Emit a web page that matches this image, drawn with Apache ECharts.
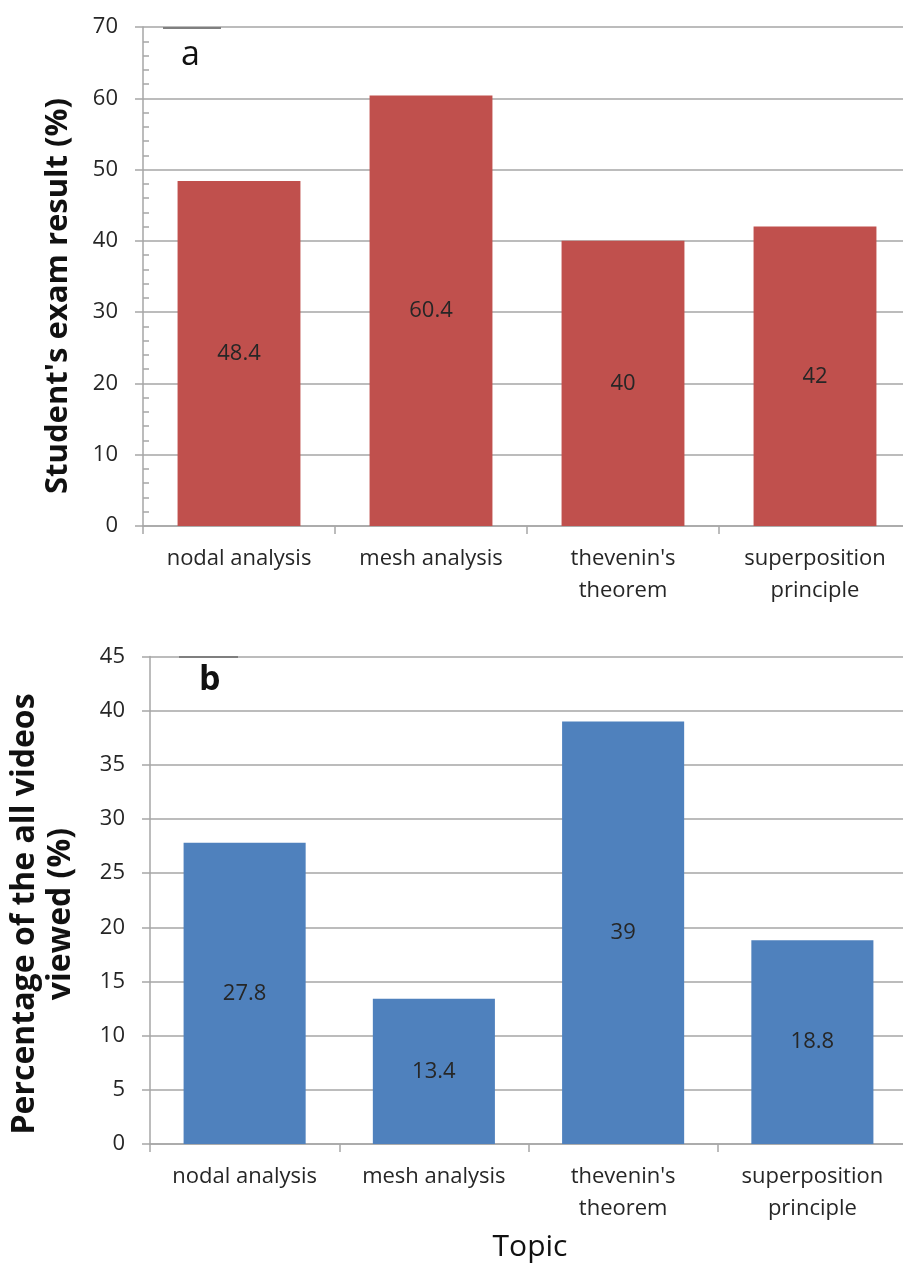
<!DOCTYPE html>
<html>
<head>
<meta charset="utf-8">
<script src="https://cdn.jsdelivr.net/npm/echarts@6/dist/echarts.min.js"></script>
<style>
html,body{margin:0;padding:0;background:#fff;}
#c{width:903px;height:1265px;}
</style>
</head>
<body>
<div id="c"></div>
<script>
// ---- data ----
const topics = ['nodal analysis', 'mesh analysis', "thevenin's\ntheorem", 'superposition\nprinciple'];
const examResult = [48.4, 60.4, 40, 42];
const videosViewed = [27.8, 13.4, 39, 18.8];
const yNameA = "Student's exam result (%)";
const yNameB = 'Percentage of the all videos\nviewed (%)';
const xNameB = 'Topic';
const panelA = 'a';
const panelB = 'b';

const FONT = '"Open Sans", Lato, sans-serif';
const AX = '#a6a6a6';
const TXT = '#262626';
const GRID_A_W = 768;

const chart = echarts.init(document.getElementById('c'), null, {renderer: 'canvas'});

function catAxis(gridIndex) {
  return {
    type: 'category', gridIndex: gridIndex, data: topics,
    axisLine: {lineStyle: {color: AX, width: 1.5}},
    axisTick: {show: true, length: 8, interval: 0, lineStyle: {color: AX, width: 1.5}},
    axisLabel: {color: TXT, fontFamily: FONT, fontSize: 22, margin: 17, lineHeight: 32, interval: 0}
  };
}
function valAxis(gridIndex, max, interval) {
  return {
    type: 'value', gridIndex: gridIndex, position: 'left', min: 0, max: max, interval: interval,
    axisLine: {show: true, lineStyle: {color: AX, width: 1.5}},
    axisTick: {show: true, length: 8, lineStyle: {color: AX, width: 1.5}},
    axisLabel: {color: TXT, fontFamily: FONT, fontSize: 22, margin: 25},
    splitLine: {show: true, lineStyle: {color: AX, width: 1.5}}
  };
}

const option = {
  animation: false,
  backgroundColor: '#fff',
  grid: [
    {left: 143, top: 27, width: GRID_A_W, height: 499, containLabel: false, outerBoundsMode: 'none'},
    {left: 150, top: 656.5, width: 757, height: 487.5, containLabel: false, outerBoundsMode: 'none'}
  ],
  xAxis: [catAxis(0), catAxis(1)],
  yAxis: [
    valAxis(0, 70, 10),
    {
      type: 'value', gridIndex: 0, position: 'right', offset: -GRID_A_W, min: 0, max: 70, interval: 10,
      axisLine: {show: false},
      axisTick: {show: false},
      axisLabel: {show: false},
      splitLine: {show: false},
      minorTick: {show: true, splitNumber: 5, length: 6, lineStyle: {color: AX, width: 1.5}}
    },
    valAxis(1, 45, 5)
  ],
  series: [
    {
      type: 'bar', xAxisIndex: 0, yAxisIndex: 0, data: examResult,
      barWidth: '64%', itemStyle: {color: '#C0504D'},
      label: {show: true, position: 'inside', color: TXT, fontFamily: FONT, fontSize: 22}
    },
    {
      type: 'bar', xAxisIndex: 1, yAxisIndex: 2, data: videosViewed,
      barWidth: '64.5%', itemStyle: {color: '#4F81BD'},
      label: {show: true, position: 'inside', color: TXT, fontFamily: FONT, fontSize: 22}
    }
  ],
  graphic: [
    {type: 'line', shape: {x1: 163, y1: 28, x2: 221, y2: 28}, style: {stroke: '#7f7f7f', lineWidth: 2}, z: 100},
    {type: 'line', shape: {x1: 179, y1: 657, x2: 238, y2: 657}, style: {stroke: '#7f7f7f', lineWidth: 2}, z: 100},
    {type: 'text', x: 181, y: 55, style: {text: panelA, font: '34px ' + FONT, fill: '#111', textVerticalAlign: 'middle'}, z: 100},
    {type: 'text', x: 199, y: 680, style: {text: panelB, font: 'bold 34px ' + FONT, fill: '#111', textVerticalAlign: 'middle'}, z: 100},
    {type: 'text', x: 58, y: 296, rotation: Math.PI / 2,
     style: {text: yNameA, font: 'bold 31px ' + FONT, fill: '#111', textAlign: 'center', textVerticalAlign: 'middle'}},
    {type: 'text', x: 43, y: 914, rotation: Math.PI / 2,
     style: {text: yNameB, font: 'bold 32px ' + FONT, fill: '#111', textAlign: 'center', textVerticalAlign: 'middle', lineHeight: 36}},
    {type: 'text', x: 530, y: 1247,
     style: {text: xNameB, font: '30px ' + FONT, fill: '#111', textAlign: 'center', textVerticalAlign: 'middle'}}
  ]
};
chart.setOption(option);
</script>
</body>
</html>
